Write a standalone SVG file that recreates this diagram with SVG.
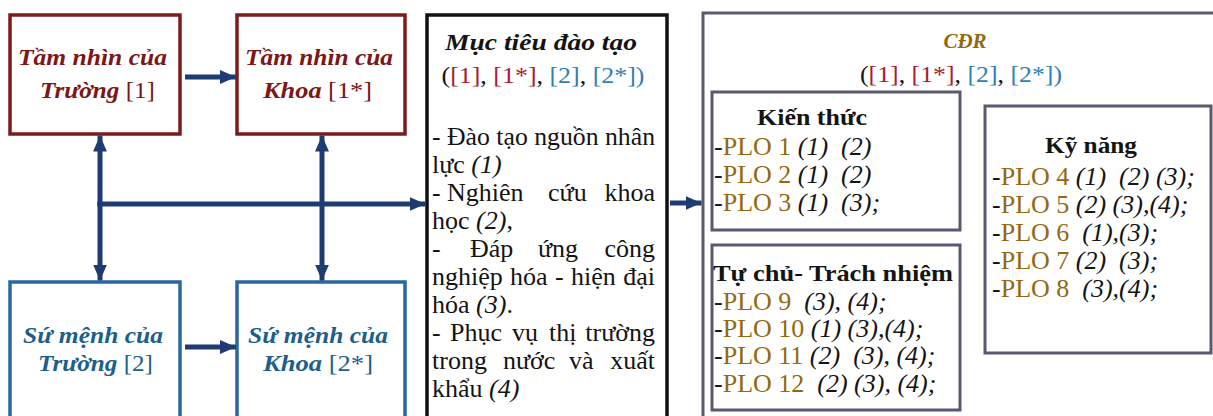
<svg xmlns="http://www.w3.org/2000/svg" width="1213" height="416" viewBox="0 0 1213 416">
<style>
text{font-family:"Liberation Serif","Times New Roman",serif;font-size:24px;fill:#141414;white-space:pre}
.t26{font-size:26px}
.bi{font-weight:bold;font-style:italic}
.b{font-weight:bold}
.it{font-style:italic}
.n{font-weight:normal;font-style:normal}
.red{fill:#7d1616}
.blu{fill:#1d5f8a}
.gold{fill:#94680f}
.r2{fill:#a81e2e}
.b2{fill:#2f7fb8}
.mid{text-anchor:middle}
.end{text-anchor:end}
.rbox{fill:#fff;stroke:#7a1c1c;stroke-width:3.5}
.bbox{fill:#fff;stroke:#2a67a0;stroke-width:3.5}
.kbox{fill:#fff;stroke:#111;stroke-width:3.5}
.gbox{fill:#fff;stroke:#5c5870;stroke-width:3}
.con{fill:none;stroke:#1f3b73;stroke-width:5;marker-end:url(#ah)}
</style>
<defs>
<marker id="ah" viewBox="0 0 16 14" refX="16" refY="7" markerWidth="16" markerHeight="14" markerUnits="userSpaceOnUse" orient="auto">
<path d="M0,0 L16,7 L0,14 Z" fill="#1f3b73"/>
</marker>
</defs>
<rect width="1213" height="416" fill="#fff"/>

<g id="tamnhin-truong">
<rect class="rbox" x="10" y="15" width="170" height="119"/>
<text class="bi red mid" x="92.5" y="65" textLength="149" lengthAdjust="spacingAndGlyphs">Tầm nhìn của</text>
<text class="bi red mid" x="97.5" y="98" textLength="115" lengthAdjust="spacingAndGlyphs">Trường<tspan class="n"> [1]</tspan></text>
</g>
<g id="tamnhin-khoa">
<rect class="rbox" x="237" y="15" width="168" height="119"/>
<text class="bi red mid" x="319" y="65" textLength="148" lengthAdjust="spacingAndGlyphs">Tầm nhìn của</text>
<text class="bi red mid" x="317.5" y="98" textLength="109" lengthAdjust="spacingAndGlyphs">Khoa<tspan class="n"> [1*]</tspan></text>
</g>
<g id="sumenh-truong">
<rect class="bbox" x="10" y="282" width="170" height="150"/>
<text class="bi blu mid" x="93" y="343" textLength="140" lengthAdjust="spacingAndGlyphs">Sứ mệnh của</text>
<text class="bi blu mid" x="95.5" y="371" textLength="115" lengthAdjust="spacingAndGlyphs">Trường<tspan class="n"> [2]</tspan></text>
</g>
<g id="sumenh-khoa">
<rect class="bbox" x="237" y="282" width="168" height="150"/>
<text class="bi blu mid" x="318" y="343" textLength="140" lengthAdjust="spacingAndGlyphs">Sứ mệnh của</text>
<text class="bi blu mid" x="318" y="371" textLength="110" lengthAdjust="spacingAndGlyphs">Khoa<tspan class="n"> [2*]</tspan></text>
</g>

<g id="muctieu">
<rect class="kbox" x="427" y="15" width="240" height="420"/>
<text class="bi mid" x="541" y="50" textLength="192" lengthAdjust="spacingAndGlyphs">Mục tiêu đào tạo</text>
<text class="mid" x="543" y="83" textLength="203" lengthAdjust="spacingAndGlyphs">(<tspan class="r2">[1]</tspan>, <tspan class="r2">[1*]</tspan>, <tspan class="b2">[2]</tspan>, <tspan class="b2">[2*])</tspan></text>
<text class="t26" x="432" y="145" textLength="223" lengthAdjust="spacingAndGlyphs">- Đào tạo nguồn nhân</text>
<text class="t26" x="432" y="173">lực <tspan class="it">(1)</tspan></text>
<text class="t26" y="201"><tspan x="432">-</tspan><tspan x="447">Nghiên</tspan><tspan x="548">cứu</tspan></text>
<text class="t26 end" x="655" y="201">khoa</text>
<text class="t26" x="432" y="229">học <tspan class="it">(2)</tspan>,</text>
<text class="t26" y="257"><tspan x="432">-</tspan><tspan x="470">Đáp</tspan><tspan x="538">ứng</tspan></text>
<text class="t26 end" x="655" y="257">công</text>
<text class="t26" y="285"><tspan x="432">nghiệp</tspan><tspan x="510">hóa</tspan><tspan x="555">-</tspan><tspan x="571">hiện</tspan></text>
<text class="t26 end" x="655" y="285">đại</text>
<text class="t26" x="432" y="313">hóa <tspan class="it">(3)</tspan>.</text>
<text class="t26" y="341"><tspan x="432">-</tspan><tspan x="450">Phục</tspan><tspan x="512">vụ</tspan><tspan x="549">thị</tspan></text>
<text class="t26 end" x="655" y="341">trường</text>
<text class="t26" y="369"><tspan x="432">trong</tspan><tspan x="503">nước</tspan><tspan x="569">và</tspan></text>
<text class="t26 end" x="655" y="369">xuất</text>
<text class="t26" x="432" y="397">khẩu <tspan class="it">(4)</tspan></text>
</g>

<g id="cdr">
<rect class="gbox" x="703" y="13" width="530" height="430"/>
<text class="bi gold mid" x="965" y="48" style="font-size:21px">CĐR</text>
<text class="mid" x="961" y="82" textLength="202" lengthAdjust="spacingAndGlyphs">(<tspan class="r2">[1]</tspan>, <tspan class="r2">[1*]</tspan>, <tspan class="b2">[2]</tspan>, <tspan class="b2">[2*])</tspan></text>
</g>

<g id="kienthuc">
<rect class="gbox" x="712" y="92" width="248" height="138"/>
<text class="b mid" x="812" y="125" textLength="110" lengthAdjust="spacingAndGlyphs">Kiến thức</text>
<text class="t26" x="714" y="155">-<tspan class="gold">PLO 1</tspan> <tspan class="it">(1)  (2)</tspan></text>
<text class="t26" x="714" y="183">-<tspan class="gold">PLO 2</tspan> <tspan class="it">(1)  (2)</tspan></text>
<text class="t26" x="714" y="211">-<tspan class="gold">PLO 3</tspan> <tspan class="it">(1)  (3);</tspan></text>
</g>

<g id="tuchu">
<rect class="gbox" x="712" y="245" width="248" height="165"/>
<text class="b" x="713" y="281" textLength="240" lengthAdjust="spacingAndGlyphs">Tự chủ- Trách nhiệm</text>
<text class="t26" x="714" y="310">-<tspan class="gold">PLO 9</tspan>  <tspan class="it">(3), (4);</tspan></text>
<text class="t26" x="714" y="337">-<tspan class="gold">PLO 10</tspan> <tspan class="it">(1) (3),(4);</tspan></text>
<text class="t26" x="714" y="364">-<tspan class="gold">PLO 11</tspan> <tspan class="it">(2)  (3), (4);</tspan></text>
<text class="t26" x="714" y="392">-<tspan class="gold">PLO 12</tspan>  <tspan class="it">(2) (3), (4);</tspan></text>
</g>

<g id="kynang">
<rect class="gbox" x="985" y="106" width="226" height="247"/>
<text class="b mid" x="1091" y="153" textLength="92" lengthAdjust="spacingAndGlyphs">Kỹ năng</text>
<text class="t26" x="992" y="185">-<tspan class="gold">PLO 4</tspan> <tspan class="it">(1)  (2) (3);</tspan></text>
<text class="t26" x="992" y="213">-<tspan class="gold">PLO 5</tspan> <tspan class="it">(2) (3),(4);</tspan></text>
<text class="t26" x="992" y="241">-<tspan class="gold">PLO 6</tspan>  <tspan class="it">(1),(3);</tspan></text>
<text class="t26" x="992" y="269">-<tspan class="gold">PLO 7</tspan> <tspan class="it">(2)  (3);</tspan></text>
<text class="t26" x="992" y="297">-<tspan class="gold">PLO 8</tspan>  <tspan class="it">(3),(4);</tspan></text>
</g>

<g id="connectors">
<path class="con" d="M185,77 H236"/>
<path class="con" d="M185,347 H236"/>
<path class="con" d="M100,206 V135.5"/>
<path class="con" d="M100,202 V280.5"/>
<path class="con" d="M322,206 V135.5"/>
<path class="con" d="M322,202 V280.5"/>
<path class="con" d="M97.5,204 H425.5"/>
<path class="con" d="M670,203 H701.5"/>
</g>
</svg>
